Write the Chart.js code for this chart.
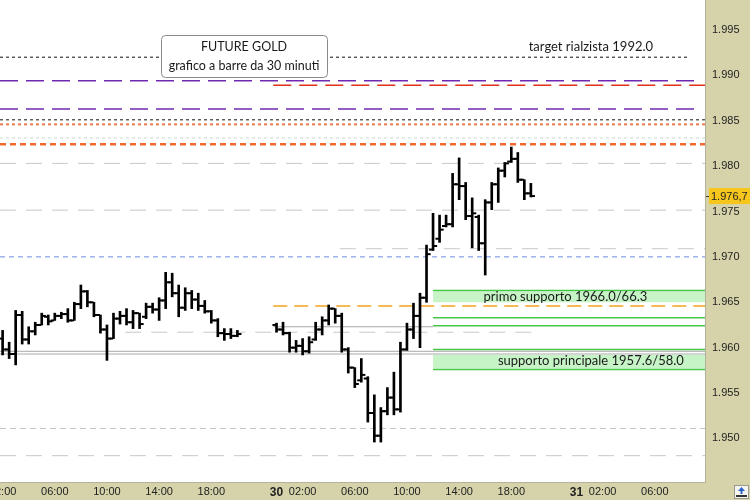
<!DOCTYPE html>
<html>
<head>
<meta charset="utf-8">
<script src="https://cdn.jsdelivr.net/npm/chart.js@4.4.1/dist/chart.umd.min.js"></script>
<style>
  html, body { margin: 0; padding: 0; background: #d6d3ab; }
  #wrap { width: 750px; height: 500px; }
</style>
</head>
<body>
<div id="wrap"><canvas id="chart" width="750" height="500"></canvas></div>
<script>
/* FUTURE GOLD, 30 minute OHLC bars.
   x = bar index: 0 = day 29 02:00, one step per 30 min, the 23:00-00:00 break is skipped. */

const opens = [
  1961.0, 1959.8, 1959.3, 1963.6, 1960.9, 1961.8, 1962.5, 1963.4, 1963.0, 1963.5,
  1963.7, 1963.0, 1964.8, 1966.2, 1965.0, 1963.6, 1962.0, 1961.0, 1963.2, 1963.5,
  1962.8, 1963.8, 1963.4, 1964.5, 1964.2, 1965.2, 1967.2, 1966.0, 1964.4, 1966.0,
  1965.3, 1964.6, 1964.0, 1963.0, 1961.6, 1961.5, 1961.3, null, null, null,
  null, null, 1962.5, 1962.0, 1961.6, 1960.0, 1960.2, 1959.6, 1960.9, 1962.0,
  1963.0, 1964.3, 1963.5, 1959.8, 1957.8, 1956.4, 1956.6, 1952.8, 1950.3, 1953.0,
  1954.5, 1953.2, 1959.8, 1962.0, 1963.5, 1965.5, 1970.8, 1972.0, 1973.4, 1973.6,
  1978.0, 1977.8, 1974.5, 1974.4, 1971.5, 1976.0, 1978.0, 1979.5, 1980.5, 1980.8,
  1978.5, 1977.0,
];
const highs = [
  1961.9, 1960.6, 1964.1, 1964.0, 1962.3, 1962.8, 1963.8, 1963.6, 1963.8, 1963.9,
  1964.3, 1965.0, 1966.9, 1966.3, 1965.0, 1963.6, 1962.5, 1963.8, 1964.0, 1964.3,
  1964.1, 1963.8, 1964.9, 1964.9, 1965.5, 1968.3, 1968.2, 1966.9, 1966.6, 1966.3,
  1966.0, 1965.2, 1964.1, 1963.2, 1962.1, 1962.1, 1961.9, null, null, null,
  null, null, 1962.7, 1962.8, 1961.7, 1960.8, 1961.0, 1961.2, 1962.8, 1963.4,
  1964.7, 1964.3, 1963.8, 1960.0, 1957.8, 1958.8, 1956.8, 1954.8, 1953.4, 1955.6,
  1957.3, 1960.6, 1962.7, 1964.9, 1966.0, 1971.3, 1974.8, 1974.6, 1974.6, 1979.2,
  1980.9, 1978.2, 1976.5, 1974.6, 1976.3, 1978.2, 1979.8, 1980.4, 1982.1, 1981.5,
  1978.5, 1978.1,
];
const lows = [
  1959.2, 1958.8, 1958.1, 1960.4, 1960.4, 1961.4, 1962.5, 1962.5, 1963.0, 1963.2,
  1962.8, 1963.0, 1964.3, 1964.5, 1963.4, 1961.6, 1958.6, 1961.0, 1962.6, 1962.5,
  1962.1, 1962.1, 1963.2, 1963.8, 1963.0, 1964.3, 1965.6, 1963.4, 1964.1, 1964.3,
  1964.1, 1963.8, 1962.7, 1961.2, 1960.8, 1961.0, 1961.2, null, null, null,
  null, null, 1961.7, 1961.4, 1959.5, 1959.5, 1959.2, 1959.4, 1960.8, 1961.4,
  1962.5, 1962.7, 1959.5, 1957.2, 1955.6, 1956.2, 1951.8, 1949.6, 1949.6, 1952.6,
  1952.6, 1952.9, 1959.7, 1961.0, 1960.0, 1965.0, 1970.7, 1971.6, 1973.3, 1973.3,
  1976.3, 1974.1, 1971.0, 1970.7, 1968.0, 1975.2, 1976.0, 1978.8, 1980.4, 1978.2,
  1976.3, 1976.6,
];
const closes = [
  1959.8, 1959.3, 1963.6, 1960.9, 1961.8, 1962.5, 1963.5, 1962.9, 1963.5, 1963.7,
  1963.0, 1964.8, 1966.2, 1965.0, 1963.6, 1962.0, 1961.0, 1963.2, 1963.5, 1962.8,
  1963.8, 1962.6, 1964.5, 1964.2, 1965.2, 1967.2, 1966.0, 1964.4, 1966.0, 1965.3,
  1964.6, 1964.0, 1963.0, 1961.6, 1961.5, 1961.3, 1961.5, null, null, null,
  null, null, 1962.0, 1961.6, 1960.0, 1960.2, 1959.6, 1960.6, 1962.0, 1963.0,
  1964.3, 1963.5, 1959.8, 1957.8, 1956.0, 1957.0, 1952.8, 1950.3, 1953.0, 1954.5,
  1953.2, 1959.8, 1962.0, 1963.5, 1965.5, 1970.3, 1971.2, 1973.0, 1973.6, 1978.0,
  1977.8, 1974.5, 1974.8, 1971.5, 1976.0, 1978.0, 1979.5, 1980.3, 1980.8, 1978.5,
  1977.0, 1976.7,
];

// axis ticks
const yTickValues = [1950, 1955, 1960, 1965, 1970, 1975, 1980, 1985, 1990, 1995];
const xTickIndex  = [0, 8, 16, 24, 32, 42, 46, 54, 62, 70, 78, 88, 92, 100];
const xTickLabels = ['02:00', '06:00', '10:00', '14:00', '18:00', '30', '02:00', '06:00',
                     '10:00', '14:00', '18:00', '31', '02:00', '06:00'];

// drawn levels (price, from bar index, to bar index, style)
const levelValues = [1992.0, 1989.4, 1988.9, 1986.3, 1985.1, 1984.6, 1983.1, 1982.4,
                     1980.3, 1975.15, 1970.9, 1970.0, 1966.3, 1964.6, 1963.3, 1962.4,
                     1962.3, 1961.7, 1959.8, 1959.6, 1959.3, 1957.6, 1951.1, 1948.1];
const levelFrom   = [-0.4, -0.4, 41.5, -0.4, -0.4, -0.4, -0.4, -0.4,
                     -0.4, -0.4, 51.7, -0.4, 66, 41.5, 66, 66,
                     41.5, 18.8, 66, -0.4, -0.4, 66, -0.4, -0.4];
const levelTo     = [105.4, 106.9, 107.7, 106.9, 107.7, 107.7, 107.7, 107.7,
                     107.7, 107.7, 107.7, 107.7, 107.7, 107.7, 107.7, 107.7,
                     66, 82.4, 107.7, 107.7, 107.7, 107.7, 107.7, 107.7];
const levelKind   = ['black', 'purple', 'red', 'purple', 'black', 'orangeDot', 'paleDot', 'orange',
                     'grey', 'grey', 'grey', 'blue', 'green', 'amber', 'green', 'green',
                     'solidGrey', 'grey', 'green', 'solidGrey', 'solidGrey', 'green', 'greyShort', 'grey'];

// support zones (top, bottom) from bar 66 to the right edge
const zoneTop    = [1966.2, 1959.2];
const zoneBottom = [1965.0, 1957.7];
const zoneFrom = 66, zoneTo = 107.7;

const notes = [
  { text: 'target rialzista 1992.0', x: 90.2, y: 1993.1 },
  { text: 'primo supporto 1966.0/66.3', x: 86.3, y: 1965.6 },
  { text: 'supporto principale 1957.6/58.0', x: 90.2, y: 1958.6 },
];
const lastPrice = 1976.7;

const LEVEL_STYLE = {
  black:     { color: '#111111', dash: [3, 3], width: 1 },
  purple:    { color: '#7028b0', dash: [18, 8], width: 1.5 },
  red:       { color: '#e0301c', dash: [18, 8], width: 1.5 },
  orangeDot: { color: '#f07848', dash: [3, 3], width: 2 },
  paleDot:   { color: '#c8dcc8', dash: [3, 3], width: 1 },
  orange:    { color: '#f06a30', dash: [6, 4], width: 2.5 },
  grey:      { color: '#c8c8c8', dash: [16, 10], width: 1 },
  greyShort: { color: '#c4c4c4', dash: [6, 4], width: 1 },
  blue:      { color: '#6a8ee0', dash: [5, 4], width: 1 },
  green:     { color: '#44c844', dash: [], width: 1.5 },
  amber:     { color: '#f2a41c', dash: [14, 7], width: 1.5 },
  solidGrey: { color: '#a8a8a8', dash: [], width: 1 },
};

const TAN = '#d6d3ab';
const FONT = 'Lato';

function priceLabel(v) {
  const whole = Math.floor(v);
  return Math.floor(whole / 1000) + '.' + String(whole % 1000).padStart(3, '0');
}

const bars = [], openTicks = [], closeTicks = [];
highs.forEach((h, i) => {
  if (h === null) return;
  bars.push({ x: i, y: [lows[i], h] });
  openTicks.push({ x: i - 0.35, y: opens[i] });
  closeTicks.push({ x: i + 0.35, y: closes[i] });
});

const levelSets = levelValues.map((v, k) => {
  const s = LEVEL_STYLE[levelKind[k]];
  return {
    type: 'line', order: 5,
    data: [{ x: levelFrom[k], y: v }, { x: levelTo[k], y: v }],
    borderColor: s.color, borderDash: s.dash, borderWidth: s.width,
    pointRadius: 0, fill: false,
  };
});

const zoneSets = [];
zoneTop.forEach((t, k) => {
  zoneSets.push({
    type: 'line', order: 10, fill: '+1', backgroundColor: '#c6f4c6',
    data: [{ x: zoneFrom, y: t }, { x: zoneTo, y: t }], borderWidth: 0, pointRadius: 0,
  });
  zoneSets.push({
    type: 'line', order: 10, fill: false,
    data: [{ x: zoneFrom, y: zoneBottom[k] }, { x: zoneTo, y: zoneBottom[k] }], borderWidth: 0, pointRadius: 0,
  });
});

const tickSet = (data) => ({
  type: 'line', order: 0, data, showLine: false,
  pointStyle: 'line', pointRadius: 1.8, pointBorderWidth: 2,
  pointBorderColor: '#000', pointBackgroundColor: '#000',
});

const overlay = {
  id: 'overlay',
  beforeDraw(chart) {
    const { ctx, chartArea: a } = chart;
    ctx.save();
    ctx.fillStyle = TAN;
    ctx.fillRect(0, 0, chart.width, chart.height);
    ctx.fillStyle = '#fff';
    ctx.fillRect(a.left, a.top, a.right - a.left, a.bottom - a.top);
    ctx.restore();
  },
  afterDatasetsDraw(chart) {
    const { ctx, chartArea: a, scales: { x, y } } = chart;
    ctx.save();

    // level notes
    ctx.font = `13px ${FONT}`;
    ctx.fillStyle = '#1a1a1a';
    ctx.textAlign = 'center';
    ctx.textBaseline = 'middle';
    for (const n of notes) ctx.fillText(n.text, x.getPixelForValue(n.x), y.getPixelForValue(n.y));

    // title box
    ctx.beginPath();
    ctx.roundRect(161.5, 35.5, 166, 42, 4);
    ctx.fillStyle = '#fff';
    ctx.fill();
    ctx.strokeStyle = '#8a8a8a';
    ctx.lineWidth = 1;
    ctx.stroke();
    ctx.fillStyle = '#1a1a1a';
    ctx.font = `12.5px ${FONT}`;
    ctx.fillText('FUTURE GOLD', 244, 47);
    ctx.fillText('grafico a barre da 30 minuti', 244, 66);

    // last price tag
    const py = y.getPixelForValue(lastPrice);
    ctx.fillStyle = '#f6c61c';
    ctx.fillRect(a.right + 4, py - 8, chart.width - a.right - 4, 16);
    ctx.strokeStyle = '#333';
    ctx.beginPath();
    ctx.moveTo(a.right + 1, py + 0.5);
    ctx.lineTo(a.right + 4, py + 0.5);
    ctx.stroke();
    ctx.fillStyle = '#222';
    ctx.font = '11px "Liberation Sans"';
    ctx.textAlign = 'left';
    ctx.fillText('1.976,7', a.right + 6, py + 1);

    // small corner button
    const bx = chart.width - 16, by = chart.height - 15;
    ctx.fillStyle = '#f4f4f0';
    ctx.fillRect(bx, by, 15, 14);
    ctx.strokeStyle = '#9a9a8a';
    ctx.strokeRect(bx + 0.5, by + 0.5, 14, 13);
    ctx.fillStyle = '#2a64c8';
    ctx.beginPath();
    ctx.moveTo(bx + 7.5, by + 2); ctx.lineTo(bx + 11, by + 6); ctx.lineTo(bx + 4, by + 6);
    ctx.closePath(); ctx.fill();
    ctx.fillRect(bx + 6.5, by + 6, 2, 3);
    ctx.fillStyle = '#333';
    ctx.fillRect(bx + 2, by + 10, 11, 2);
    ctx.restore();
  },
};

new Chart(document.getElementById('chart'), {
  type: 'bar',
  data: {
    datasets: [
      { type: 'bar', order: 1, data: bars, backgroundColor: '#000', barThickness: 2, grouped: false },
      tickSet(openTicks),
      tickSet(closeTicks),
      ...levelSets,
      ...zoneSets,
    ],
  },
  options: {
    responsive: false,
    animation: false,
    layout: { padding: 0, autoPadding: false },
    plugins: { legend: { display: false }, tooltip: { enabled: false } },
    scales: {
      x: {
        type: 'linear', min: -0.4, max: 107.7, offset: false,
        grid: { display: false, drawTicks: false, offset: false },
        border: { display: true, color: '#b4b29a' },
        afterBuildTicks: (s) => { s.ticks = xTickIndex.map(v => ({ value: v })); },
        afterFit: (s) => {
          s.height = 18;
          s.paddingLeft = 0; s.paddingRight = 0; s.paddingTop = 0; s.paddingBottom = 0;
        },
        ticks: {
          autoSkip: false, maxRotation: 0, padding: 3, color: '#222',
          callback: (v) => xTickLabels[xTickIndex.indexOf(v)],
          font: (c) => {
            const day = c.tick && (c.tick.label === '30' || c.tick.label === '31');
            return day ? { family: '"Liberation Sans"', size: 12, weight: 'bold' }
                       : { family: '"Liberation Sans"', size: 11 };
          },
        },
      },
      y: {
        type: 'linear', position: 'right', min: 1945.2, max: 1998.3,
        grid: { display: false, drawTicks: false },
        border: { display: true, color: '#b4b29a' },
        afterBuildTicks: (s) => { s.ticks = yTickValues.map(v => ({ value: v })); },
        afterFit: (s) => {
          s.width = 45;
          s.paddingLeft = 0; s.paddingRight = 0; s.paddingTop = 0; s.paddingBottom = 0;
        },
        ticks: {
          padding: 7, color: '#222',
          font: { family: '"Liberation Sans"', size: 11 },
          callback: (v) => priceLabel(v),
        },
      },
    },
  },
  plugins: [overlay],
});
</script>
</body>
</html>
